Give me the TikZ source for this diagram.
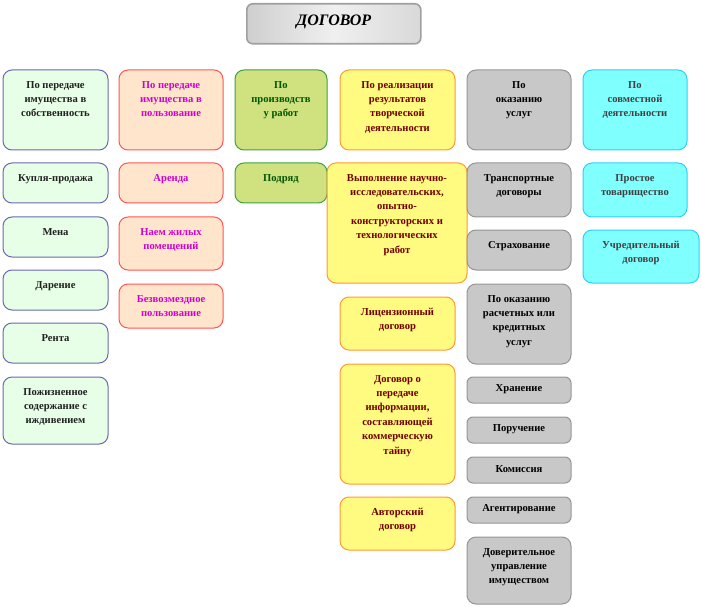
\documentclass[tikz,border=0pt]{standalone}
\usepackage{fontspec}
\setmainfont{Liberation Serif}
\definecolor{aF}{HTML}{E6FFE6}\definecolor{aL}{HTML}{6A6AB0}\definecolor{aT}{HTML}{202020}
\definecolor{bF}{HTML}{FFE5CC}\definecolor{bL}{HTML}{FF5555}\definecolor{bT}{HTML}{D000D0}
\definecolor{cF}{HTML}{D0E27F}\definecolor{cL}{HTML}{40A040}\definecolor{cT}{HTML}{005500}
\definecolor{dF}{HTML}{FFFA80}\definecolor{dL}{HTML}{FF9933}\definecolor{dT}{HTML}{700000}
\definecolor{eF}{HTML}{C8C8C8}\definecolor{eL}{HTML}{959595}\definecolor{eT}{HTML}{000000}
\definecolor{fF}{HTML}{80FFFF}\definecolor{fL}{HTML}{33CCFF}\definecolor{fT}{HTML}{404040}
\tikzset{
  base/.style={draw, rounded corners=9pt, inner sep=0pt, outer sep=0pt, line width=1pt},
  basetxt/.style={font=\bfseries\fontsize{10.6}{14.4}\selectfont, align=center, inner sep=0pt},
  ca/.style={base, fill=aF, draw=aL}, ca txt/.style={basetxt, text=aT},
  cb/.style={base, fill=bF, draw=bL}, cb txt/.style={basetxt, text=bT},
  cc/.style={base, fill=cF, draw=cL}, cc txt/.style={basetxt, text=cT},
  cd/.style={base, fill=dF, draw=dL}, cd txt/.style={basetxt, text=dT},
  ce/.style={base, fill=eF, draw=eL}, ce txt/.style={basetxt, text=eT},
  cf/.style={base, fill=fF, draw=fL}, cf txt/.style={basetxt, text=fT},
}
% name, style, x, y, w, h, text  (text top aligned)
\newcommand\bx[7]{%
  \node[#2, anchor=north west, minimum width=#5pt, minimum height=#6pt] (#1) at (#3,#4) {};
  \node[#2 txt, anchor=north] (#1t) at ([yshift=-11pt]#1.north) {#7};}
% small box, text centred
\newcommand\sbx[7]{%
  \node[#2, rounded corners=6pt, anchor=north west, minimum width=#5pt, minimum height=#6pt] (#1) at (#3,#4) {};
  \node[#2 txt] (#1t) at ([yshift=1pt]#1.center) {#7};}
\begin{document}
\begin{tikzpicture}[x=1pt,y=-1pt]
\useasboundingbox (0,0) rectangle (702,607);
% title
\node[draw=gray!75, line width=1.6pt, rounded corners=6pt, left color=gray!38, right color=gray!30, middle color=gray!12,
      anchor=north west, minimum width=174pt, minimum height=40pt, inner sep=0pt] (title) at (246,3) {};
\node[font=\bfseries\itshape\fontsize{16}{17}\selectfont] (titlet) at ([yshift=2pt]title.center) {ДОГОВОР};
% column 1
\bx{h1}{ca}{3}{70}{105}{80}{По передаче\\имущества в\\собственность}
\bx{kp}{ca}{3}{163}{105}{40}{Купля-продажа}
\bx{mena}{ca}{3}{217}{105}{40}{Мена}
\bx{dar}{ca}{3}{270}{105}{40}{Дарение}
\bx{renta}{ca}{3}{323}{105}{40}{Рента}
\bx{pozh}{ca}{3}{377}{105}{67}{Пожизненное\\содержание с\\иждивением}
% column 2
\bx{h2}{cb}{119}{70}{104}{80}{По передаче\\имущества в\\пользование}
\bx{ar}{cb}{119}{163}{104}{40}{Аренда}
\bx{naem}{cb}{119}{217}{104}{53}{Наем жилых\\помещений}
\bx{bez}{cb}{119}{284}{104}{44}{Безвозмездное\\пользование}
% column 3
\bx{h3}{cc}{235}{70}{92}{80}{По\\производств\\у работ}
\bx{podr}{cc}{235}{163}{92}{40}{Подряд}
% column 4
\bx{h4}{cd}{340}{70}{115}{80}{По реализации\\результатов\\творческой\\деятельности}
\bx{niokr}{cd}{327}{163}{140}{120}{Выполнение научно-\\исследовательских,\\опытно-\\конструкторских и\\технологических\\работ}
\bx{lic}{cd}{340}{297}{115}{53}{Лицензионный\\договор}
\bx{taina}{cd}{340}{364}{115}{120}{Договор о\\передаче\\информации,\\составляющей\\коммерческую\\тайну}
\bx{avt}{cd}{340}{497}{115}{53}{Авторский\\договор}
% column 5
\bx{h5}{ce}{467}{70}{104}{80}{По\\оказанию\\услуг}
\bx{tr}{ce}{467}{163}{104}{54}{Транспортные\\договоры}
\bx{strah}{ce}{467}{230}{104}{40}{Страхование}
\bx{rk}{ce}{467}{284}{104}{80}{По оказанию\\расчетных или\\кредитных\\услуг}
\sbx{hran}{ce}{467}{377}{104}{26}{Хранение}
\sbx{por}{ce}{467}{417}{104}{26}{Поручение}
\sbx{kom}{ce}{467}{457}{104}{26}{Комиссия}
\sbx{ag}{ce}{467}{497}{104}{26}{Агентирование}
\bx{dov}{ce}{467}{537}{104}{67}{Доверительное\\управление\\имуществом}
% column 6
\bx{h6}{cf}{583}{70}{104}{80}{По\\совместной\\деятельности}
\bx{prt}{cf}{583}{163}{104}{54}{Простое\\товарищество}
\bx{ud}{cf}{583}{230}{116}{53}{Учредительный\\договор}
\end{tikzpicture}
\end{document}
